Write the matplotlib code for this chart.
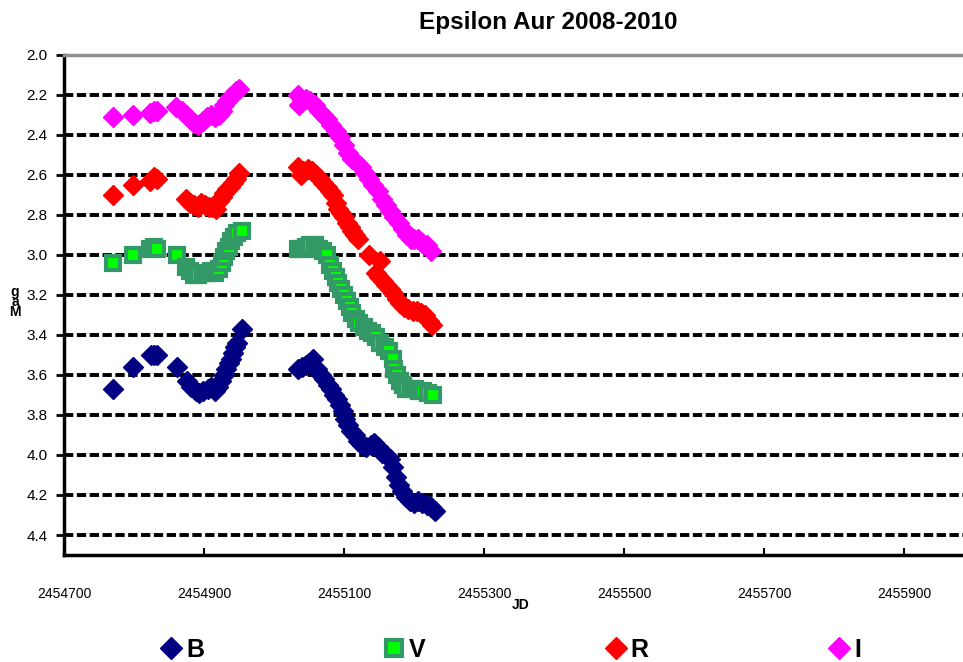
import matplotlib
matplotlib.use("Agg")
import matplotlib.pyplot as plt
from matplotlib.lines import Line2D

plt.rcParams['font.family'] = ['Liberation Sans', 'DejaVu Sans']

# B band (JD, mag)
b_jd = [2454770, 2454799, 2454824, 2454828, 2454833, 2454862, 2454876, 2454882, 2454888,
        2454893, 2454899, 2454905, 2454910, 2454915, 2454920, 2454924, 2454928, 2454931,
        2454935, 2454938, 2454941, 2454944, 2454947, 2454954,
        2455034, 2455040, 2455045, 2455050, 2455056, 2455062, 2455067, 2455072, 2455077,
        2455082, 2455086, 2455090, 2455094, 2455098, 2455102, 2455106, 2455110, 2455115,
        2455120, 2455126, 2455132, 2455138, 2455143, 2455148, 2455154, 2455160, 2455166,
        2455170, 2455174, 2455178, 2455183, 2455188, 2455194, 2455200, 2455206, 2455212,
        2455218, 2455224, 2455230]
b_mag = [3.67, 3.56, 3.50, 3.50, 3.50, 3.56, 3.63, 3.66, 3.68,
         3.69, 3.68, 3.67, 3.66, 3.68, 3.66, 3.63, 3.60, 3.57,
         3.54, 3.52, 3.49, 3.46, 3.44, 3.37,
         3.57, 3.56, 3.55, 3.54, 3.52, 3.57, 3.60, 3.62, 3.65,
         3.67, 3.70, 3.72, 3.75, 3.78, 3.82, 3.85, 3.88, 3.90,
         3.93, 3.95, 3.96, 3.95, 3.94, 3.96, 3.99, 4.00, 4.02,
         4.06, 4.11, 4.15, 4.18, 4.21, 4.23, 4.24, 4.23, 4.24,
         4.25, 4.26, 4.28]

# V band
v_jd = [2454770, 2454799, 2454823, 2454828, 2454833, 2454861, 2454874, 2454880, 2454886,
        2454892, 2454898, 2454904, 2454910, 2454916, 2454921, 2454925, 2454928, 2454931,
        2454935, 2454939, 2454943, 2454947, 2454954,
        2455034, 2455040, 2455046, 2455052, 2455058, 2455064, 2455070, 2455076, 2455080,
        2455084, 2455088, 2455092, 2455096, 2455100, 2455104, 2455108, 2455112, 2455117,
        2455122, 2455128, 2455134, 2455140, 2455146, 2455152, 2455158, 2455164, 2455170,
        2455172, 2455176, 2455180, 2455184, 2455189, 2455195, 2455201, 2455207, 2455213,
        2455220, 2455227]
v_mag = [3.04, 3.00, 2.97, 2.96, 2.97, 3.00, 3.06, 3.08, 3.10,
         3.10, 3.09, 3.09, 3.08, 3.09, 3.07, 3.04, 3.01, 2.98,
         2.96, 2.93, 2.91, 2.89, 2.88,
         2.97, 2.97, 2.96, 2.95, 2.95, 2.97, 2.98, 3.00, 3.05,
         3.08, 3.11, 3.14, 3.17, 3.20, 3.23, 3.26, 3.29, 3.32,
         3.34, 3.36, 3.38, 3.39, 3.41, 3.44, 3.46, 3.48, 3.52,
         3.57, 3.60, 3.63, 3.65, 3.67, 3.67, 3.67, 3.68, 3.68,
         3.69, 3.70]

# R band
r_jd = [2454770, 2454799, 2454823, 2454828, 2454833, 2454874, 2454880, 2454886, 2454891,
        2454896, 2454901, 2454907, 2454912, 2454917, 2454921, 2454925, 2454929, 2454933,
        2454937, 2454941, 2454945, 2454950,
        2455034, 2455038, 2455042, 2455048, 2455054, 2455060, 2455065, 2455070, 2455075,
        2455080, 2455084, 2455088, 2455092, 2455096, 2455100, 2455104, 2455108, 2455112,
        2455116, 2455120, 2455136, 2455152, 2455145, 2455150, 2455155, 2455160, 2455165,
        2455170, 2455175, 2455180, 2455186, 2455192, 2455198, 2455204, 2455210, 2455216,
        2455222, 2455226]
r_mag = [2.70, 2.65, 2.63, 2.61, 2.62, 2.72, 2.74, 2.75, 2.76,
         2.74, 2.75, 2.76, 2.76, 2.77, 2.73, 2.71, 2.69, 2.67,
         2.66, 2.64, 2.62, 2.59,
         2.56, 2.60, 2.58, 2.57, 2.58, 2.60, 2.62, 2.64, 2.66,
         2.68, 2.70, 2.74, 2.77, 2.79, 2.81, 2.84, 2.86, 2.88,
         2.90, 2.92, 3.00, 3.03, 3.09, 3.11, 3.13, 3.15, 3.17,
         3.19, 3.22, 3.24, 3.26, 3.27, 3.28, 3.28, 3.29, 3.30,
         3.33, 3.35]

# I band
i_jd = [2454770, 2454799, 2454823, 2454828, 2454833, 2454860, 2454868, 2454874, 2454880,
        2454886, 2454892, 2454898, 2454904, 2454910, 2454916, 2454921, 2454925, 2454929,
        2454933, 2454937, 2454941, 2454945, 2454950,
        2455034, 2455036, 2455040, 2455046, 2455052, 2455058, 2455064, 2455070, 2455076,
        2455082, 2455088, 2455094, 2455100, 2455106, 2455112, 2455118, 2455124, 2455130,
        2455136, 2455142, 2455148, 2455154, 2455160, 2455166, 2455172, 2455178, 2455184,
        2455190, 2455195, 2455200, 2455206, 2455212, 2455218, 2455224]
i_mag = [2.31, 2.30, 2.29, 2.28, 2.28, 2.26, 2.28, 2.30, 2.32,
         2.34, 2.35, 2.33, 2.31, 2.30, 2.31, 2.30, 2.28, 2.25,
         2.23, 2.21, 2.20, 2.18, 2.17,
         2.20, 2.25, 2.23, 2.22, 2.23, 2.25, 2.28, 2.30, 2.32,
         2.35, 2.38, 2.41, 2.45, 2.49, 2.52, 2.54, 2.56, 2.59,
         2.62, 2.65, 2.68, 2.72, 2.75, 2.78, 2.81, 2.84, 2.87,
         2.90, 2.92, 2.92, 2.92, 2.94, 2.95, 2.98]

x_ticks = [2454700, 2454900, 2455100, 2455300, 2455500, 2455700, 2455900]
y_ticks = [2.0, 2.2, 2.4, 2.6, 2.8, 3.0, 3.2, 3.4, 3.6, 3.8, 4.0, 4.2, 4.4]

fig = plt.figure(figsize=(9.63, 6.62), dpi=100)
ax = fig.add_axes([64 / 963, 1 - 555 / 662, 1 - 64 / 963, (555 - 55) / 662])

# dashed grid lines
for m in y_ticks[1:]:
    ax.axhline(m, color='black', lw=2.8, ls=(0, (2.4, 0.9)), zorder=1)

ax.plot(b_jd, b_mag, ls='none', marker='D', ms=10, mfc='#000080', mec='#000080', zorder=3)
ax.plot(v_jd, v_mag, ls='none', marker='s', ms=10.5, mfc='#00ff00', mec='#339966', mew=3, zorder=3)
ax.plot(r_jd, r_mag, ls='none', marker='D', ms=10, mfc='#ff0000', mec='#ff0000', zorder=3)
ax.plot(i_jd, i_mag, ls='none', marker='D', ms=10, mfc='#ff00ff', mec='#ff00ff', zorder=3)

ax.set_xlim(2454700, 2455984)
ax.set_ylim(4.5, 2.0)
ax.set_xticks(x_ticks)
ax.set_xticklabels([str(t) for t in x_ticks], fontsize=10)
ax.set_yticks(y_ticks)
ax.set_yticklabels(['%.1f' % t for t in y_ticks], fontsize=11)
ax.tick_params(axis='x', direction='in', length=5, width=1.5, pad=23)
ax.tick_params(axis='y', direction='out', length=6, width=2, pad=6)

ax.spines['left'].set_linewidth(2.5)
ax.spines['bottom'].set_linewidth(2.5)
ax.spines['top'].set_color('#909090')
ax.spines['top'].set_linewidth(2.5)
ax.spines['right'].set_visible(False)

fig.text(548 / 963, 1 - 22 / 662, 'Epsilon Aur 2008-2010', ha='center', va='center',
         fontsize=17.5, fontweight='bold')
fig.text(521 / 963, 1 - 605 / 662, 'JD', ha='center', va='center', fontsize=10, fontweight='bold')
fig.text(15 / 963, 1 - 302 / 662, 'g\na\nM', ha='center', va='center', fontsize=10,
         fontweight='bold', linespacing=0.62)

handles = [
    Line2D([], [], ls='none', marker='D', ms=11, mfc='#000080', mec='#000080'),
    Line2D([], [], ls='none', marker='s', ms=11, mfc='#00ff00', mec='#339966', mew=3),
    Line2D([], [], ls='none', marker='D', ms=11, mfc='#ff0000', mec='#ff0000'),
    Line2D([], [], ls='none', marker='D', ms=11, mfc='#ff00ff', mec='#ff00ff'),
]
fig.legend(handles, ['B', 'V', 'R', 'I'], loc='center', bbox_to_anchor=(511 / 963, 1 - 650 / 662),
           ncol=4, frameon=False, handlelength=0.8, handletextpad=0.2, columnspacing=7.2,
           prop={'weight': 'bold', 'size': 18})

fig.savefig('out.png', dpi=100)
